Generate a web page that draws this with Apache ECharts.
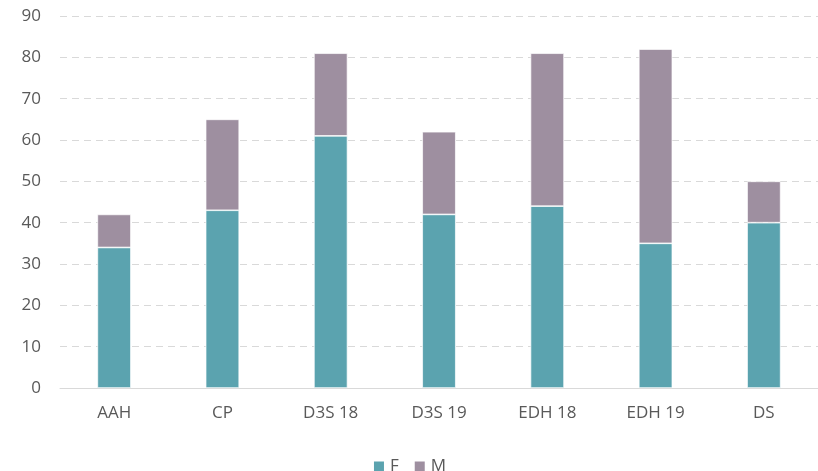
<!DOCTYPE html>
<html>
<head>
<meta charset="utf-8">
<script src="https://cdn.jsdelivr.net/npm/echarts@6/dist/echarts.min.js"></script>
<style>
  html, body { margin: 0; padding: 0; background: #fff; }
  #main { width: 818px; height: 471px; }
</style>
</head>
<body>
<div id="main"></div>
<script>
var categories = ['AAH', 'CP', 'D3S 18', 'D3S 19', 'EDH 18', 'EDH 19', 'DS'];
var femaleValues = [34, 43, 61, 42, 44, 35, 40];
var maleValues = [8, 22, 20, 20, 37, 47, 10];

var myChart = echarts.init(document.getElementById('main'));

var textStyle = { color: '#595959', fontFamily: 'Open Sans', fontSize: 17 };

var option = {
  animation: false,
  grid: { left: 60, right: 0, top: 16, bottom: 83 },
  legend: {
    bottom: -9,
    left: 'center',
    itemWidth: 12,
    itemHeight: 12,
    itemGap: 14,
    icon: 'rect',
    textStyle: textStyle,
    data: ['F', 'M']
  },
  xAxis: {
    type: 'category',
    data: categories,
    axisLine: { lineStyle: { color: '#d9d9d9' } },
    axisTick: { show: false },
    axisLabel: Object.assign({ margin: 17 }, textStyle)
  },
  yAxis: {
    type: 'value',
    min: 0,
    max: 90,
    interval: 10,
    axisLine: { show: false },
    axisTick: { show: false },
    axisLabel: Object.assign({ margin: 19 }, textStyle),
    splitLine: { lineStyle: { color: '#d9d9d9', type: [7, 5], width: 1 } }
  },
  series: [
    {
      name: 'F',
      type: 'bar',
      stack: 'total',
      barWidth: '31%',
      data: femaleValues,
      itemStyle: { color: '#5ba3af', borderColor: '#fff', borderWidth: 0.7 }
    },
    {
      name: 'M',
      type: 'bar',
      stack: 'total',
      data: maleValues,
      itemStyle: { color: '#9e8fa0', borderColor: '#fff', borderWidth: 0.7 }
    }
  ]
};
myChart.setOption(option);
</script>
</body>
</html>
